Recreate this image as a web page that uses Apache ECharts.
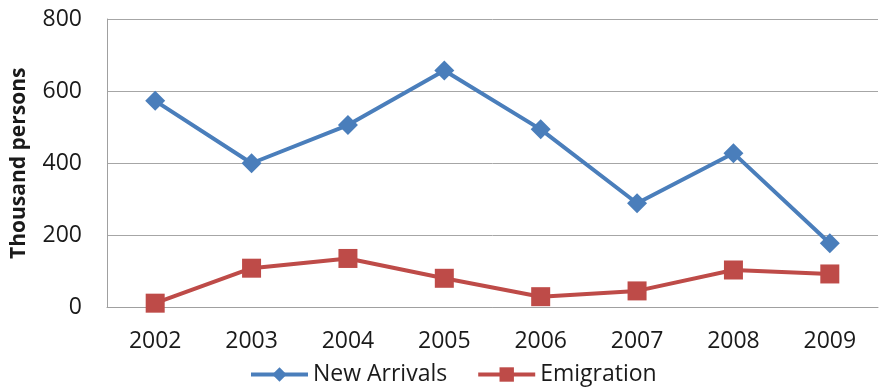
<!DOCTYPE html>
<html>
<head>
<meta charset="utf-8">
<script src="https://cdn.jsdelivr.net/npm/echarts@6/dist/echarts.min.js"></script>
<style>
  html, body { margin: 0; padding: 0; background: #fff; }
  #chart { width: 879px; height: 388px; }
</style>
</head>
<body>
<div id="chart"></div>
<script>
// Years on the category axis
const years = ['2002', '2003', '2004', '2005', '2006', '2007', '2008', '2009'];
// Thousand persons per year
const newArrivals = [573, 400, 506, 657, 494, 289, 428, 178];
const emigration = [12, 109, 136, 81, 30, 46, 104, 93];
// Value axis ticks
const yTicks = [0, 200, 400, 600, 800];

const chart = echarts.init(document.getElementById('chart'), null, { renderer: 'canvas' });
const font = '"Open Sans", "Liberation Sans", sans-serif';

chart.setOption({
  animation: false,
  backgroundColor: '#ffffff',
  grid: { left: 107, right: 1, top: 19, bottom: 80.5, outerBoundsMode: 'none', containLabel: false },
  legend: {
    top: 358,
    left: 244,
    itemWidth: 57,
    itemHeight: 18,
    itemGap: 29,
    textStyle: { fontFamily: font, fontSize: 23, color: '#1a1a1a' },
    data: [
      { name: 'New Arrivals', lineStyle: { width: 4 }, itemStyle: { color: '#4a7ebb' } },
      { name: 'Emigration', lineStyle: { width: 4 }, itemStyle: { color: '#be4b48' } }
    ]
  },
  xAxis: {
    type: 'category',
    data: years,
    boundaryGap: true,
    axisLine: { lineStyle: { color: '#a0a0a0', width: 1 } },
    axisTick: { show: false },
    axisLabel: { fontFamily: font, fontSize: 23, color: '#1a1a1a', margin: 22 }
  },
  yAxis: {
    type: 'value',
    min: yTicks[0],
    max: yTicks[yTicks.length - 1],
    interval: 200,
    name: 'Thousand persons',
    nameLocation: 'middle',
    nameGap: 77,
    nameTextStyle: { fontFamily: font, fontSize: 21, fontWeight: 'bold', color: '#1a1a1a' },
    axisLine: { show: true, lineStyle: { color: '#a0a0a0', width: 1 } },
    axisTick: { show: false },
    splitLine: { lineStyle: { color: '#a6a6a6', width: 1 } },
    axisLabel: { fontFamily: font, fontSize: 23, color: '#1a1a1a', margin: 25 }
  },
  series: [
    {
      name: 'New Arrivals',
      type: 'line',
      data: newArrivals,
      symbol: 'diamond',
      symbolSize: 20,
      lineStyle: { color: '#4a7ebb', width: 4 },
      itemStyle: { color: '#4a7ebb' }
    },
    {
      name: 'Emigration',
      type: 'line',
      data: emigration,
      symbol: 'rect',
      symbolSize: 19,
      lineStyle: { color: '#be4b48', width: 4 },
      itemStyle: { color: '#be4b48' }
    }
  ]
});
</script>
</body>
</html>
